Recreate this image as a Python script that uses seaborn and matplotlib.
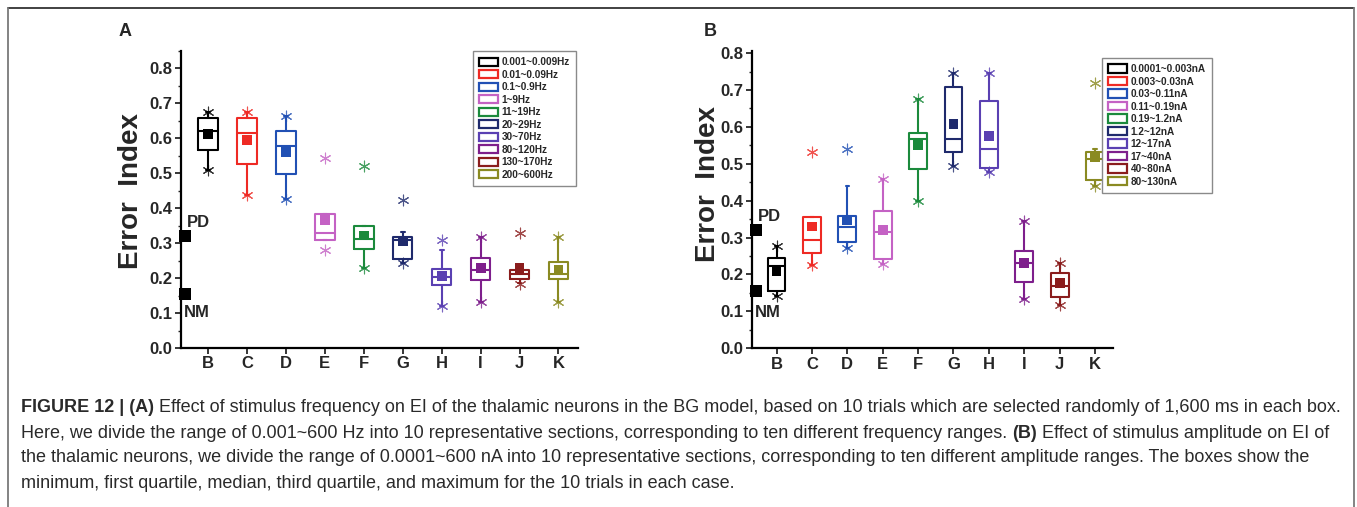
import numpy as np
import pandas as pd
import seaborn as sns
import matplotlib.pyplot as plt
import matplotlib.patches as mpatches
import matplotlib.transforms as mtransforms
from matplotlib.lines import Line2D
from matplotlib.ticker import MultipleLocator

sns.set_style("ticks")
plt.rcParams['font.family'] = ['Liberation Sans', 'DejaVu Sans']

# categories and colours shared by both panels
cats = ["B", "C", "D", "E", "F", "G", "H", "I", "J", "K"]
colors = ["#000000", "#ee2a24", "#2150b4", "#c462c4", "#1b8a3c",
          "#1f2a6c", "#5a40b2", "#7e1f8c", "#8a1d1d", "#8a8a22"]

# Panel A: stimulus frequency
freq_labels = ["0.001~0.009Hz", "0.01~0.09Hz", "0.1~0.9Hz", "1~9Hz", "11~19Hz",
               "20~29Hz", "30~70Hz", "80~120Hz", "130~170Hz", "200~600Hz"]
a_q1 = [0.567, 0.527, 0.497, 0.310, 0.283, 0.254, 0.179, 0.195, 0.197, 0.197]
a_med = [0.622, 0.616, 0.579, 0.329, 0.312, 0.310, 0.202, 0.224, 0.212, 0.212]
a_q3 = [0.657, 0.657, 0.621, 0.384, 0.348, 0.317, 0.226, 0.257, 0.224, 0.246]
a_lo = [0.510, 0.438, 0.426, 0.310, 0.229, 0.243, 0.119, 0.133, 0.186, 0.133]
a_hi = [0.676, 0.676, 0.665, 0.384, 0.348, 0.331, 0.281, 0.319, 0.224, 0.319]
a_mean = [0.612, 0.595, 0.560, 0.367, 0.322, 0.305, 0.207, 0.229, 0.229, 0.222]
a_star_hi = [0.676, 0.676, 0.665, 0.545, 0.522, 0.424, 0.310, 0.319, 0.329, 0.319]
a_star_lo = [0.510, 0.438, 0.426, 0.279, 0.229, 0.243, 0.119, 0.133, 0.183, 0.133]

# Panel B: stimulus amplitude
amp_labels = ["0.0001~0.003nA", "0.003~0.03nA", "0.03~0.11nA", "0.11~0.19nA", "0.19~1.2nA",
              "1.2~12nA", "12~17nA", "17~40nA", "40~80nA", "80~130nA"]
b_q1 = [0.156, 0.258, 0.287, 0.242, 0.486, 0.533, 0.488, 0.181, 0.140, 0.457]
b_med = [0.222, 0.294, 0.330, 0.315, 0.567, 0.568, 0.541, 0.231, 0.170, 0.513]
b_q3 = [0.246, 0.355, 0.359, 0.371, 0.583, 0.707, 0.669, 0.265, 0.203, 0.532]
b_lo = [0.142, 0.226, 0.271, 0.228, 0.400, 0.495, 0.479, 0.133, 0.118, 0.439]
b_hi = [0.276, 0.355, 0.439, 0.458, 0.675, 0.746, 0.746, 0.344, 0.231, 0.540]
b_mean = [0.208, 0.330, 0.348, 0.321, 0.550, 0.608, 0.576, 0.231, 0.176, 0.518]
b_star_hi = [0.276, 0.532, 0.541, 0.458, 0.675, 0.746, 0.746, 0.344, 0.231, 0.719]
b_star_lo = [0.142, 0.226, 0.271, 0.228, 0.400, 0.495, 0.479, 0.133, 0.118, 0.439]

# reference levels
ref_names = ["PD", "NM"]
ref_values = [0.321, 0.154]

W, H = 1357, 507
fig = plt.figure(figsize=(W / 100, H / 100), dpi=100)


def draw_panel(ax, q1, med, q3, lo, hi, mean, s_hi, s_lo, labels, ymax,
               legend_anchor, label_y):
    pos = np.arange(1, len(cats) + 1)
    stats = [dict(q1=a, med=m, q3=b, whislo=l, whishi=h, fliers=[], label=c)
             for a, m, b, l, h, c in zip(q1, med, q3, lo, hi, cats)]
    bp = ax.bxp(stats, positions=pos, widths=0.5, capwidths=0.1,
                showfliers=False, patch_artist=False)
    for i, col in enumerate(colors):
        bp['boxes'][i].set(color=col, linewidth=1.5)
        bp['medians'][i].set(color=col, linewidth=1.5)
        for art in bp['whiskers'][2 * i:2 * i + 2] + bp['caps'][2 * i:2 * i + 2]:
            art.set(color=col, linewidth=1.5)

    means = pd.DataFrame({"pos": pos, "mean": mean, "cat": cats})
    sns.scatterplot(data=means, x="pos", y="mean", hue="cat", palette=colors,
                    marker="s", s=50, linewidth=0, legend=False, ax=ax, zorder=5)

    for p, h, l, col in zip(pos, s_hi, s_lo, colors):
        ax.scatter([p, p], [h, l], marker=(6, 2, 0), s=60, color=col,
                   linewidths=0.8, alpha=0.8, zorder=4)

    refs = pd.DataFrame({"x": [0.42, 0.42], "y": ref_values})
    sns.scatterplot(data=refs, x="x", y="y", color="black", marker="s", s=75,
                    linewidth=0, legend=False, ax=ax, clip_on=False, zorder=6)
    ax.text(0.47, label_y[0], ref_names[0], fontsize=12, fontweight="bold", va="center")
    ax.text(0.38, label_y[1], ref_names[1], fontsize=12, fontweight="bold", va="center")

    ax.set_xlim(0.3, 10.5)
    ax.set_ylim(0, ymax)
    ax.set_xticks(pos)
    ax.set_xticklabels(cats, fontsize=12, fontweight="bold")
    ax.set_yticks(np.arange(0, 0.81, 0.1))
    ax.set_yticklabels([f"{v:.1f}" for v in np.arange(0, 0.81, 0.1)],
                       fontsize=12, fontweight="bold")
    ax.yaxis.set_minor_locator(MultipleLocator(0.05))
    ax.tick_params(axis="both", which="major", direction="out", length=4, width=1.3, pad=2)
    ax.tick_params(axis="y", which="minor", direction="out", length=2, width=1.0)
    ax.set_xlabel("")
    ax.set_ylabel("")
    sns.despine(ax=ax)
    for sp in ["left", "bottom"]:
        ax.spines[sp].set_linewidth(1.6)
        ax.spines[sp].set_color("black")

    handles = [mpatches.Patch(facecolor="white", edgecolor=c, linewidth=1.6, label=lab)
               for c, lab in zip(colors, labels)]
    leg = fig.legend(handles=handles, loc="upper right", bbox_to_anchor=legend_anchor,
                     bbox_transform=fig.transFigure, prop={"size": 7.2, "weight": "bold"},
                     frameon=True, fancybox=False, edgecolor="#8a8a8a", framealpha=1,
                     handlelength=1.9, handleheight=0.9, labelspacing=0.25,
                     handletextpad=0.35, borderpad=0.6, borderaxespad=0)
    leg.get_frame().set_linewidth(1.0)


axA = fig.add_axes([0.1332, 0.3136, 0.2927, 0.586])
draw_panel(axA, a_q1, a_med, a_q3, a_lo, a_hi, a_mean, a_star_hi, a_star_lo,
           freq_labels, 0.85, (0.4245, 0.899), (0.36, 0.103))
axB = fig.add_axes([0.554, 0.313, 0.266, 0.586])
draw_panel(axB, b_q1, b_med, b_q3, b_lo, b_hi, b_mean, b_star_hi, b_star_lo,
           amp_labels, 0.805, (0.893, 0.8856), (0.357, 0.096))

fig.text(131 / W, 1 - 191 / H, "Error  Index", rotation=90, fontsize=20,
         fontweight="bold", ha="center", va="center")
fig.text(708 / W, 1 - 184 / H, "Error  Index", rotation=90, fontsize=20,
         fontweight="bold", ha="center", va="center")
fig.text(125 / W, 1 - 31 / H, "A", fontsize=13, fontweight="bold", ha="center", va="center")
fig.text(710 / W, 1 - 32 / H, "B", fontsize=13, fontweight="bold", ha="center", va="center")

# frame around the figure (open at the bottom)
fig.add_artist(Line2D([8 / W, 1354 / W], [1 - 8 / H, 1 - 8 / H], color="#333333", lw=1.3))
fig.add_artist(Line2D([8 / W, 8 / W], [0, 1 - 8 / H], color="#7a7a7a", lw=1.3))
fig.add_artist(Line2D([1354 / W, 1354 / W], [0, 1 - 8 / H], color="#7a7a7a", lw=1.3))

# caption with mixed bold / regular pieces
caption = [
    [("FIGURE 12 | (A)", "bold"),
     ("Effect of stimulus frequency on EI of the thalamic neurons in the BG model, based on 10 trials which are selected randomly of 1,600 ms in each box.", "normal")],
    [("Here, we divide the range of 0.001~600 Hz into 10 representative sections, corresponding to ten different frequency ranges.", "normal"),
     ("(B)", "bold"),
     ("Effect of stimulus amplitude on EI of", "normal")],
    [("the thalamic neurons, we divide the range of 0.0001~600 nA into 10 representative sections, corresponding to ten different amplitude ranges. The boxes show the", "normal")],
    [("minimum, first quartile, median, third quartile, and maximum for the 10 trials in each case.", "normal")],
]
caption_y = [408, 433, 458, 483]
cap_color = "#2a2a2a"
renderer = fig.canvas.get_renderer()
ident = mtransforms.IdentityTransform()


def text_width(s, size, weight):
    t = fig.text(0, 0, s, fontsize=size, fontweight=weight, transform=ident)
    w = t.get_window_extent(renderer).width
    t.remove()
    return w


def line_width(pieces, size):
    total = 0
    for i, (s, wt) in enumerate(pieces):
        total += text_width(s, size, wt)
        if i < len(pieces) - 1:
            total += text_width("a a", size, "normal") - text_width("aa", size, "normal")
    return total


base = 10
cap_size = base * (1340 - 21) / line_width(caption[0], base)

for pieces, yy in zip(caption, caption_y):
    x = 21
    space = text_width("a a", cap_size, "normal") - text_width("aa", cap_size, "normal")
    for s, wt in pieces:
        t = fig.text(x, H - yy, s, fontsize=cap_size, fontweight=wt, color=cap_color,
                     va="center", ha="left", transform=ident)
        x += t.get_window_extent(renderer).width + space

fig.savefig("out.png", dpi=100)
